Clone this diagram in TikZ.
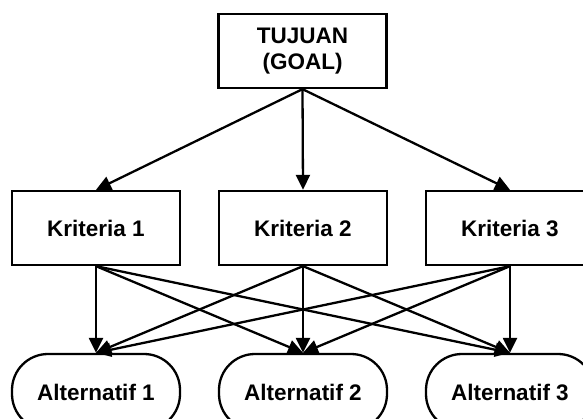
\documentclass[tikz,border=0pt]{standalone}
\usepackage{fontspec}
\setmainfont{Liberation Sans}
\usetikzlibrary{arrows.meta}
\begin{document}
\begin{tikzpicture}[x=1pt,y=-1pt,
  every node/.style={font=\fontsize{22.5}{26}\selectfont\bfseries, line width=2.3pt, align=center, inner sep=0pt},
  boxnode/.style={draw, rectangle, minimum width=168pt, minimum height=74pt},
  altnode/.style={draw, rectangle, rounded corners=36pt, minimum width=168pt, minimum height=76pt},
  conn/.style={line width=2.3pt, -{Triangle[length=15pt,width=14pt]}}]
\useasboundingbox (0,0) rectangle (583,419);
\clip (0,0) rectangle (583,419);
\fill[white] (0,0) rectangle (583,419);
\node[boxnode] (goal) at (302.5,51) {TUJUAN\\(GOAL)};
\node[boxnode] (k1) at (96,228) {Kriteria 1};
\node[boxnode] (k2) at (303,228) {Kriteria 2};
\node[boxnode] (k3) at (510,228) {Kriteria 3};
\node[altnode] (a1) at (96,392) {Alternatif 1};
\node[altnode] (a2) at (303,392) {Alternatif 2};
\node[altnode] (a3) at (510,392) {Alternatif 3};
\foreach \k in {k1,k2,k3} {
  \draw[conn] (goal.south) -- (\k.north);
  \foreach \a in {a1,a2,a3} {
    \draw[conn] (\k.south) -- (\a.north);
  }
}
\end{tikzpicture}
\end{document}
